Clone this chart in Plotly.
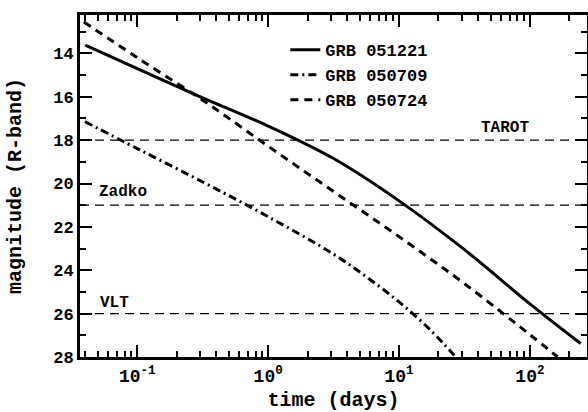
import math
import plotly.graph_objects as go

# GRB 051221 (solid)
t_051221 = [0.04, 0.1, 0.316, 1.0, 3.16, 10.0, 31.6, 100.0, 244.0]
m_051221 = [13.62, 14.70, 16.05, 17.35, 18.85, 20.8, 23.05, 25.55, 27.38]

# GRB 050709 (dash-dot)
t_050709 = [0.0398, 0.1, 0.316, 1.0, 3.16, 5.62, 10.0, 17.8, 27.0]
m_050709 = [17.15, 18.39, 19.93, 21.53, 23.26, 24.3, 25.46, 26.82, 28.0]

# GRB 050724 (dashed)
t_050724 = [0.039, 0.1, 0.316, 1.0, 3.16, 10.0, 31.6, 100.0, 163.0]
m_050724 = [12.55, 14.2, 16.16, 18.28, 20.37, 22.45, 24.62, 26.97, 28.0]

# Telescope limiting magnitudes
limit_names = ["TAROT", "Zadko", "VLT"]
limit_mags = [18, 21, 26]

# x tick labels
x_tickvals = [0.1, 1, 10, 100]
x_ticktext = ["10<sup>-1</sup>", "10<sup>0</sup>", "10<sup>1</sup>", "10<sup>2</sup>"]

FONT = "Liberation Mono, Courier New, monospace"
X_RANGE_LOG = [-1.438, 2.436]
Y_RANGE = [28, 12.23]

fig = go.Figure()

for mag in limit_mags:
    fig.add_trace(go.Scatter(
        x=[10 ** X_RANGE_LOG[0], 10 ** X_RANGE_LOG[1]], y=[mag, mag],
        mode="lines", line=dict(color="black", width=1.3, dash="9px,6px"),
        showlegend=False, hoverinfo="skip"))

fig.add_trace(go.Scatter(x=t_051221, y=m_051221, mode="lines", name="GRB 051221",
                         line=dict(color="black", width=3, shape="spline", smoothing=1)))
fig.add_trace(go.Scatter(x=t_050709, y=m_050709, mode="lines", name="GRB 050709",
                         line=dict(color="black", width=3, dash="8px,4px,2px,4px",
                                   shape="spline", smoothing=1)))
fig.add_trace(go.Scatter(x=t_050724, y=m_050724, mode="lines", name="GRB 050724",
                         line=dict(color="black", width=3, dash="8px,6px",
                                   shape="spline", smoothing=1)))

# label placement (time in days, magnitude, anchor)
label_pos = {"TAROT": (64, 17.45, "center"), "Zadko": (0.049, 20.4, "left"), "VLT": (0.05, 25.5, "left")}
for name in limit_names:
    x, y, anc = label_pos[name]
    fig.add_annotation(x=math.log10(x), y=y, xref="x", yref="y", text=name, showarrow=False,
                       xanchor=anc, yanchor="middle",
                       font=dict(family=FONT, size=16, color="black", weight="bold"))

axis_common = dict(
    showline=True, linewidth=3, linecolor="black", mirror="allticks",
    ticks="inside", ticklen=12, tickwidth=2, tickcolor="black",
    showgrid=False, zeroline=False,
)

fig.update_xaxes(type="log", range=X_RANGE_LOG, tickvals=x_tickvals, ticktext=x_ticktext,
                 tickfont=dict(family=FONT, size=18, color="black", weight="bold"),
                 minor=dict(ticks="inside", ticklen=6, tickwidth=2, tickcolor="black",
                            dtick="D1", showgrid=False),
                 title=dict(text="time (days)", standoff=12,
                            font=dict(family=FONT, size=20, color="black", weight="bold")),
                 **axis_common)
fig.update_yaxes(range=Y_RANGE, dtick=2, tick0=0,
                 tickfont=dict(family=FONT, size=17, color="black", weight="bold"),
                 minor=dict(ticks="inside", ticklen=6, tickwidth=2, tickcolor="black",
                            dtick=1, showgrid=False),
                 title=dict(text="magnitude (R-band)", standoff=27,
                            font=dict(family=FONT, size=20, color="black", weight="bold")),
                 **axis_common)

fig.update_layout(
    width=588, height=412,
    margin=dict(l=80, r=1, t=15, b=55, autoexpand=False),
    plot_bgcolor="white", paper_bgcolor="white",
    font=dict(family=FONT, color="black", weight="bold"),
    legend=dict(x=0.405, y=0.95, xanchor="left", yanchor="top",
                bgcolor="rgba(0,0,0,0)", borderwidth=0,
                font=dict(family=FONT, size=17, color="black", weight="bold"),
                itemwidth=30, tracegroupgap=0),
)

fig.write_html("out.html", config={"displayModeBar": False},
               post_script="document.body.style.margin='0';")
